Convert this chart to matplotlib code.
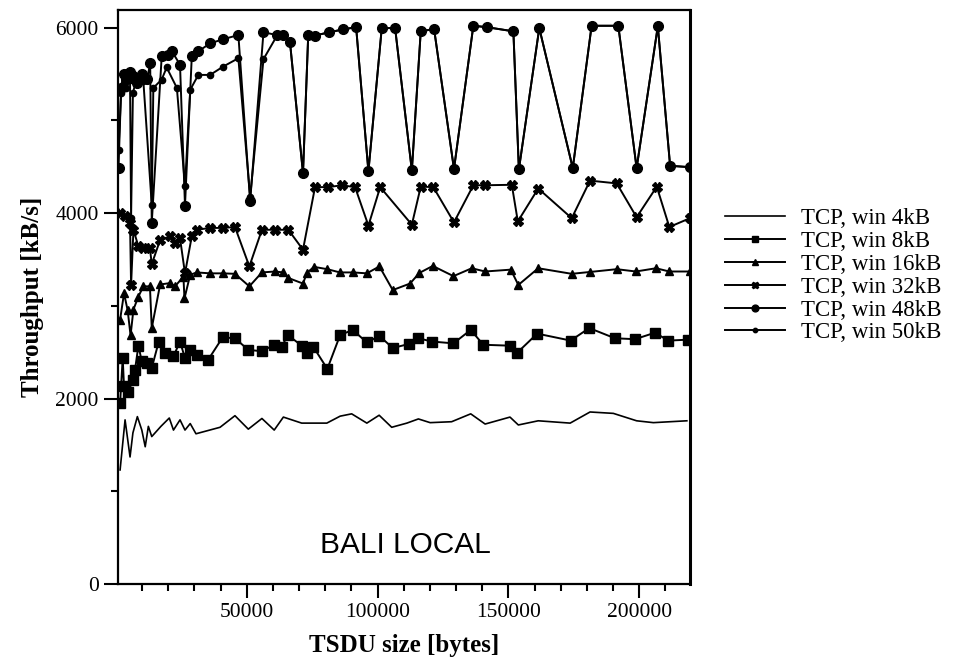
import numpy as np
import matplotlib
matplotlib.use("Agg")
import matplotlib.pyplot as plt
from matplotlib.ticker import MultipleLocator

# --- data (TSDU size in kB, throughput in kB/s) ---
x4 = [1.6, 3.5, 5.4, 6.5, 8.2, 9.9, 11.2, 12.4, 13.7, 17.2, 20.4, 22.0, 24.5, 26.4, 28.4, 30.6,
      39.8, 45.5, 50.6, 55.8, 60.5, 64.0, 71.0, 80.6, 85.7, 90.1, 95.9, 100.6, 105.4, 111.2,
      115.6, 120.1, 128.3, 135.6, 141.1, 150.6, 153.8, 161.4, 173.6, 181.2, 190.1, 199.0,
      205.4, 218.2]
y4 = [1230, 1770, 1370, 1630, 1805, 1660, 1480, 1700, 1590, 1700, 1790, 1660, 1770, 1660, 1730,
      1620, 1690, 1815, 1670, 1785, 1660, 1800, 1735, 1735, 1810, 1835, 1735, 1820, 1690, 1735,
      1780, 1740, 1750, 1835, 1725, 1800, 1715, 1760, 1735, 1855, 1840, 1760, 1740, 1760]

x8 = [1.6, 2.6, 3.1, 4.8, 6.5, 7.3, 8.6, 9.9, 11.8, 13.7, 16.3, 18.8, 22.0, 24.5, 26.4, 28.4,
      30.9, 35.3, 40.8, 45.5, 50.6, 55.8, 60.5, 63.4, 65.7, 71.0, 72.9, 75.5, 80.8, 85.7, 90.5,
      95.9, 100.7, 105.8, 112.2, 115.6, 120.7, 129.0, 135.6, 140.4, 150.6, 153.4, 161.0,
      173.8, 180.9, 190.7, 198.4, 206.0, 211.1, 218.8]
y8 = [1950, 2435, 2130, 2075, 2200, 2310, 2570, 2400, 2380, 2330, 2605, 2490, 2455, 2615, 2435,
      2525, 2470, 2420, 2660, 2650, 2525, 2510, 2580, 2560, 2685, 2570, 2490, 2555, 2320, 2685,
      2740, 2605, 2675, 2545, 2590, 2650, 2615, 2595, 2740, 2580, 2570, 2495, 2700, 2625, 2760,
      2650, 2640, 2710, 2625, 2635]

x16 = [1.6, 3.1, 4.5, 5.6, 6.7, 8.6, 10.5, 13.0, 13.7, 16.9, 20.7, 22.6, 25.8, 26.2, 28.4, 30.9,
       36.0, 41.0, 45.5, 51.0, 55.8, 60.8, 64.0, 65.9, 71.5, 73.0, 75.7, 80.8, 85.6, 90.7, 95.9,
       100.7, 105.8, 112.4, 116.0, 121.1, 129.0, 136.0, 141.1, 150.9, 153.8, 161.4, 174.2,
       181.2, 191.4, 198.7, 206.4, 211.5, 219.4]
y16 = [2850, 3135, 2950, 2680, 2960, 3100, 3210, 3210, 2760, 3230, 3245, 3210, 3315, 3080, 3335,
       3360, 3350, 3350, 3345, 3210, 3360, 3370, 3360, 3300, 3240, 3355, 3420, 3395, 3360, 3360,
       3350, 3425, 3170, 3240, 3355, 3430, 3320, 3405, 3370, 3390, 3225, 3405, 3345, 3365, 3395,
       3370, 3405, 3370, 3370]

x32 = [1.6, 3.5, 5.4, 5.8, 6.7, 8.6, 10.5, 13.0, 13.7, 16.9, 20.7, 22.6, 24.5, 26.4, 29.0, 30.9,
       36.0, 41.0, 45.5, 51.0, 55.8, 60.8, 65.9, 71.5, 76.1, 81.2, 86.3, 91.4, 96.5, 101.0,
       113.1, 116.5, 121.3, 129.2, 136.6, 141.1, 151.3, 153.6, 161.4, 174.2, 181.2, 191.4,
       199.0, 206.7, 211.5, 219.4]
y32 = [4000, 3965, 3890, 3225, 3820, 3640, 3620, 3620, 3450, 3710, 3750, 3675, 3730, 3350, 3750,
       3820, 3840, 3840, 3850, 3425, 3820, 3820, 3820, 3605, 4280, 4280, 4300, 4280, 3865, 4280,
       3875, 4285, 4280, 3900, 4300, 4300, 4305, 3910, 4265, 3945, 4350, 4320, 3955, 4285,
       3850, 3945]

# 48kB and 50kB coincide for larger TSDUs
tail_x = [71.5, 73.5, 76.1, 81.6, 86.7, 91.8, 96.5, 101.6, 106.7, 113.1, 116.5, 121.6, 129.2,
          136.6, 141.7, 151.9, 154.0, 161.8, 174.6, 181.8, 192.0, 199.0, 207.1, 211.8, 219.4]
tail_y = [4430, 5920, 5915, 5950, 5980, 6005, 4450, 5995, 5995, 4460, 5960, 5985, 4475, 6020,
          6005, 5960, 4470, 5995, 4485, 6020, 6020, 4485, 6015, 4510, 4495]

x48 = [1.0, 2.0, 3.0, 4.0, 5.4, 6.5, 8.0, 10.0, 12.0, 13.1, 13.7, 17.5, 20.0, 21.4, 24.5, 26.4,
       29.0, 31.5, 36.0, 41.0, 46.8, 51.3, 56.4, 61.5, 64.0, 66.5] + tail_x
y48 = [4490, 5350, 5500, 5450, 5520, 5480, 5400, 5500, 5450, 5620, 3895, 5690, 5710, 5745, 5600,
       4080, 5690, 5745, 5830, 5875, 5920, 4130, 5950, 5920, 5920, 5850] + tail_y

x50 = [1.0, 2.0, 3.0, 4.0, 5.4, 5.8, 6.5, 8.0, 10.5, 13.7, 14.3, 17.5, 19.4, 23.3, 26.4, 28.4,
       31.5, 36.0, 41.0, 46.8, 51.3, 56.4, 61.5, 64.0, 66.5] + tail_x
y50 = [4680, 5300, 5400, 5350, 5440, 3950, 5300, 5450, 5420, 4090, 5350, 5440, 5570, 5350, 4290,
       5330, 5490, 5490, 5580, 5670, 4170, 5660, 5910, 5930, 5850] + tail_y

labels = ["TCP, win 4kB", "TCP, win 8kB", "TCP, win 16kB",
          "TCP, win 32kB", "TCP, win 48kB", "TCP, win 50kB"]

plt.rcParams['font.family'] = ['Liberation Serif', 'DejaVu Serif']

fig = plt.figure(figsize=(9.55, 6.62), dpi=100)
ax = fig.add_axes([118 / 955, 1 - 584 / 662, (690 - 118) / 955, (584 - 10) / 662])

k = lambda v: np.array(v) * 1000
ax.plot(k(x4), y4, color='black', lw=1.2, label=labels[0])
ax.plot(k(x8), y8, color='black', lw=1.4, marker='s', ms=6.5, label=labels[1])
ax.plot(k(x16), y16, color='black', lw=1.4, marker='^', ms=6, label=labels[2])
ax.plot(k(x32), y32, color='black', lw=1.4, marker='X', ms=6.5, label=labels[3])
ax.plot(k(x48), y48, color='black', lw=1.4, marker='o', ms=7, label=labels[4])
ax.plot(k(x50), y50, color='black', lw=1.4, marker='o', ms=4.5, label=labels[5])

ax.set_xlim(800, 219400)
ax.set_ylim(0, 6190)
ax.set_xticks([50000, 100000, 150000, 200000])
ax.xaxis.set_minor_locator(MultipleLocator(10000))
ax.set_yticks([0, 2000, 4000, 6000])
ax.yaxis.set_minor_locator(MultipleLocator(1000))
ax.tick_params(axis='both', which='major', direction='out', length=10, width=1.5,
               labelsize=15.5, pad=4)
ax.tick_params(axis='both', which='minor', direction='out', length=5, width=1.5)
for s in ax.spines.values():
    s.set_linewidth(1.6)
ax.spines['right'].set_linewidth(2.2)

ax.set_xlabel("TSDU size [bytes]", fontsize=18, fontweight='bold', labelpad=8)
ax.set_ylabel("Throughput [kB/s]", fontsize=18, fontweight='bold', labelpad=8)

ax.text(0.502, 0.068, "BALI LOCAL", transform=ax.transAxes, ha='center', va='center',
        fontsize=21.5, family=['Liberation Sans', 'DejaVu Sans'])

fig.legend(loc='upper left', bbox_to_anchor=(725 / 955, 1 - 208 / 662), frameon=False,
           fontsize=16.5, handlelength=2.6, handletextpad=0.7, labelspacing=0.08,
           markerscale=0.7, borderaxespad=0, borderpad=0)

fig.savefig("out.png", dpi=100)
